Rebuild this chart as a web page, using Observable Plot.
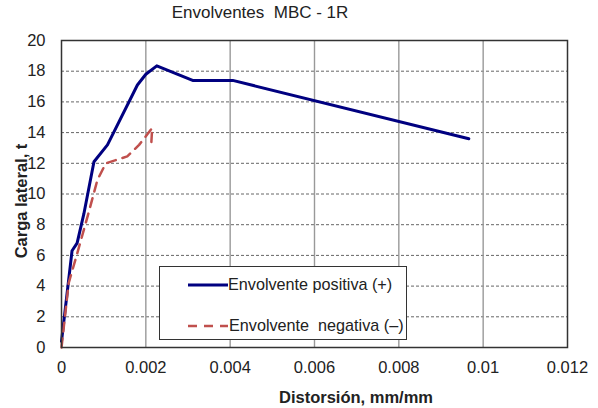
<!DOCTYPE html>
<html>
<head>
<meta charset="utf-8">
<script src="https://cdn.jsdelivr.net/npm/d3@7"></script>
<script src="https://cdn.jsdelivr.net/npm/@observablehq/plot@0.6"></script>
<style>
  body { margin: 0; background: #fff; font-family: "Liberation Sans", Arial, sans-serif; }
  #wrap { position: relative; width: 598px; height: 408px; overflow: hidden; }
  #title { position: absolute; left: 0; top: 0; width: 520px; height: 26px; line-height: 26px; text-align: center; font-size: 17px; color: #222; white-space: pre; }
  #chart { position: absolute; left: 0; top: 26px; }
  .axt { position: absolute; font-size: 16.5px; font-weight: bold; color: #222; white-space: pre; }
  #xt { left: 236px; top: 387px; width: 240px; text-align: center; line-height: 20px; }
  #yt { left: 21px; top: 201px; transform: translate(-50%, -50%) rotate(-90deg); line-height: 20px; }
  #legend { position: absolute; left: 159px; top: 266px; width: 246px; height: 72px; border: 1.5px solid #333; background: #fff; }
  .lg { position: absolute; font-size: 16.2px; color: #222; white-space: pre; line-height: 20px; }
</style>
</head>
<body>
<div id="wrap">
  <div id="title">Envolventes  MBC - 1R</div>
  <div id="chart"></div>
  <div id="xt" class="axt">Distorsión, mm/mm</div>
  <div id="yt" class="axt">Carga lateral, t</div>
  <div id="legend">
    <svg style="position:absolute;left:28px;top:16px" width="40" height="4"><line x1="0" y1="2" x2="40" y2="2" stroke="#000080" stroke-width="3"/></svg>
    <div class="lg" style="left:68px;top:7px">Envolvente positiva (+)</div>
    <svg style="position:absolute;left:28px;top:57px" width="40" height="4"><line x1="0" y1="2" x2="40" y2="2" stroke="#C0504D" stroke-width="2.5" stroke-dasharray="9,7"/></svg>
    <div class="lg" style="left:69px;top:48px">Envolvente  negativa (–)</div>
  </div>
</div>
<script>
const posX = [0, 0.00025, 0.00037, 0.00053, 0.00077, 0.00109, 0.0018, 0.002, 0.00226, 0.00311, 0.00406, 0.00966];
const posY = [0.4, 6.3, 6.8, 8.7, 12.1, 13.2, 17.1, 17.8, 18.35, 17.4, 17.4, 13.6];
const negX = [0, 0.00017, 0.00037, 0.00065, 0.00085, 0.00105, 0.00156, 0.00184, 0.00215, 0.00213];
const negY = [0, 4.2, 6.1, 8.85, 10.9, 12.0, 12.45, 13.2, 14.3, 13.3];
const xTicks = [0, 0.002, 0.004, 0.006, 0.008, 0.01, 0.012];
const xTickLabels = ["0", "0.002", "0.004", "0.006", "0.008", "0.01", "0.012"];
const yTicks = [0, 2, 4, 6, 8, 10, 12, 14, 16, 18, 20];
const yTickLabels = ["0", "2", "4", "6", "8", "10", "12", "14", "16", "18", "20"];

const pos = posX.map((x, i) => ({x, y: posY[i]}));
const neg = negX.map((x, i) => ({x, y: negY[i]}));

const chart = Plot.plot({
  width: 598,
  height: 382,
  marginLeft: 61,
  marginRight: 31,
  marginTop: 14,
  marginBottom: 61,
  x: {domain: [0, 0.012]},
  y: {domain: [0, 20]},
  style: {fontFamily: "'Liberation Sans', Arial, sans-serif", fontSize: "16.5px", color: "#222", background: "#fff"},
  marks: [
    Plot.ruleY(yTicks.slice(1, -1), {stroke: "#666", strokeWidth: 1, strokeDasharray: "3,2"}),
    Plot.ruleX(xTicks.slice(1, -1), {stroke: "#999", strokeWidth: 1.4}),
    Plot.line(pos, {x: "x", y: "y", stroke: "#000080", strokeWidth: 3, curve: "linear"}),
    Plot.line(neg, {x: "x", y: "y", stroke: "#C0504D", strokeWidth: 2.5, strokeDasharray: "9,7", curve: "linear"}),
    Plot.frame({stroke: "#333", strokeWidth: 1.5}),
    Plot.axisX(xTicks, {tickSize: 0, tickPadding: 14, fontSize: 16.5, tickFormat: d => xTickLabels[xTicks.indexOf(d)], label: null}),
    Plot.axisY(yTicks, {tickSize: 0, tickPadding: 16, fontSize: 16.5, tickFormat: d => yTickLabels[yTicks.indexOf(d)], label: null})
  ]
});
document.getElementById("chart").appendChild(chart);
</script>
</body>
</html>
